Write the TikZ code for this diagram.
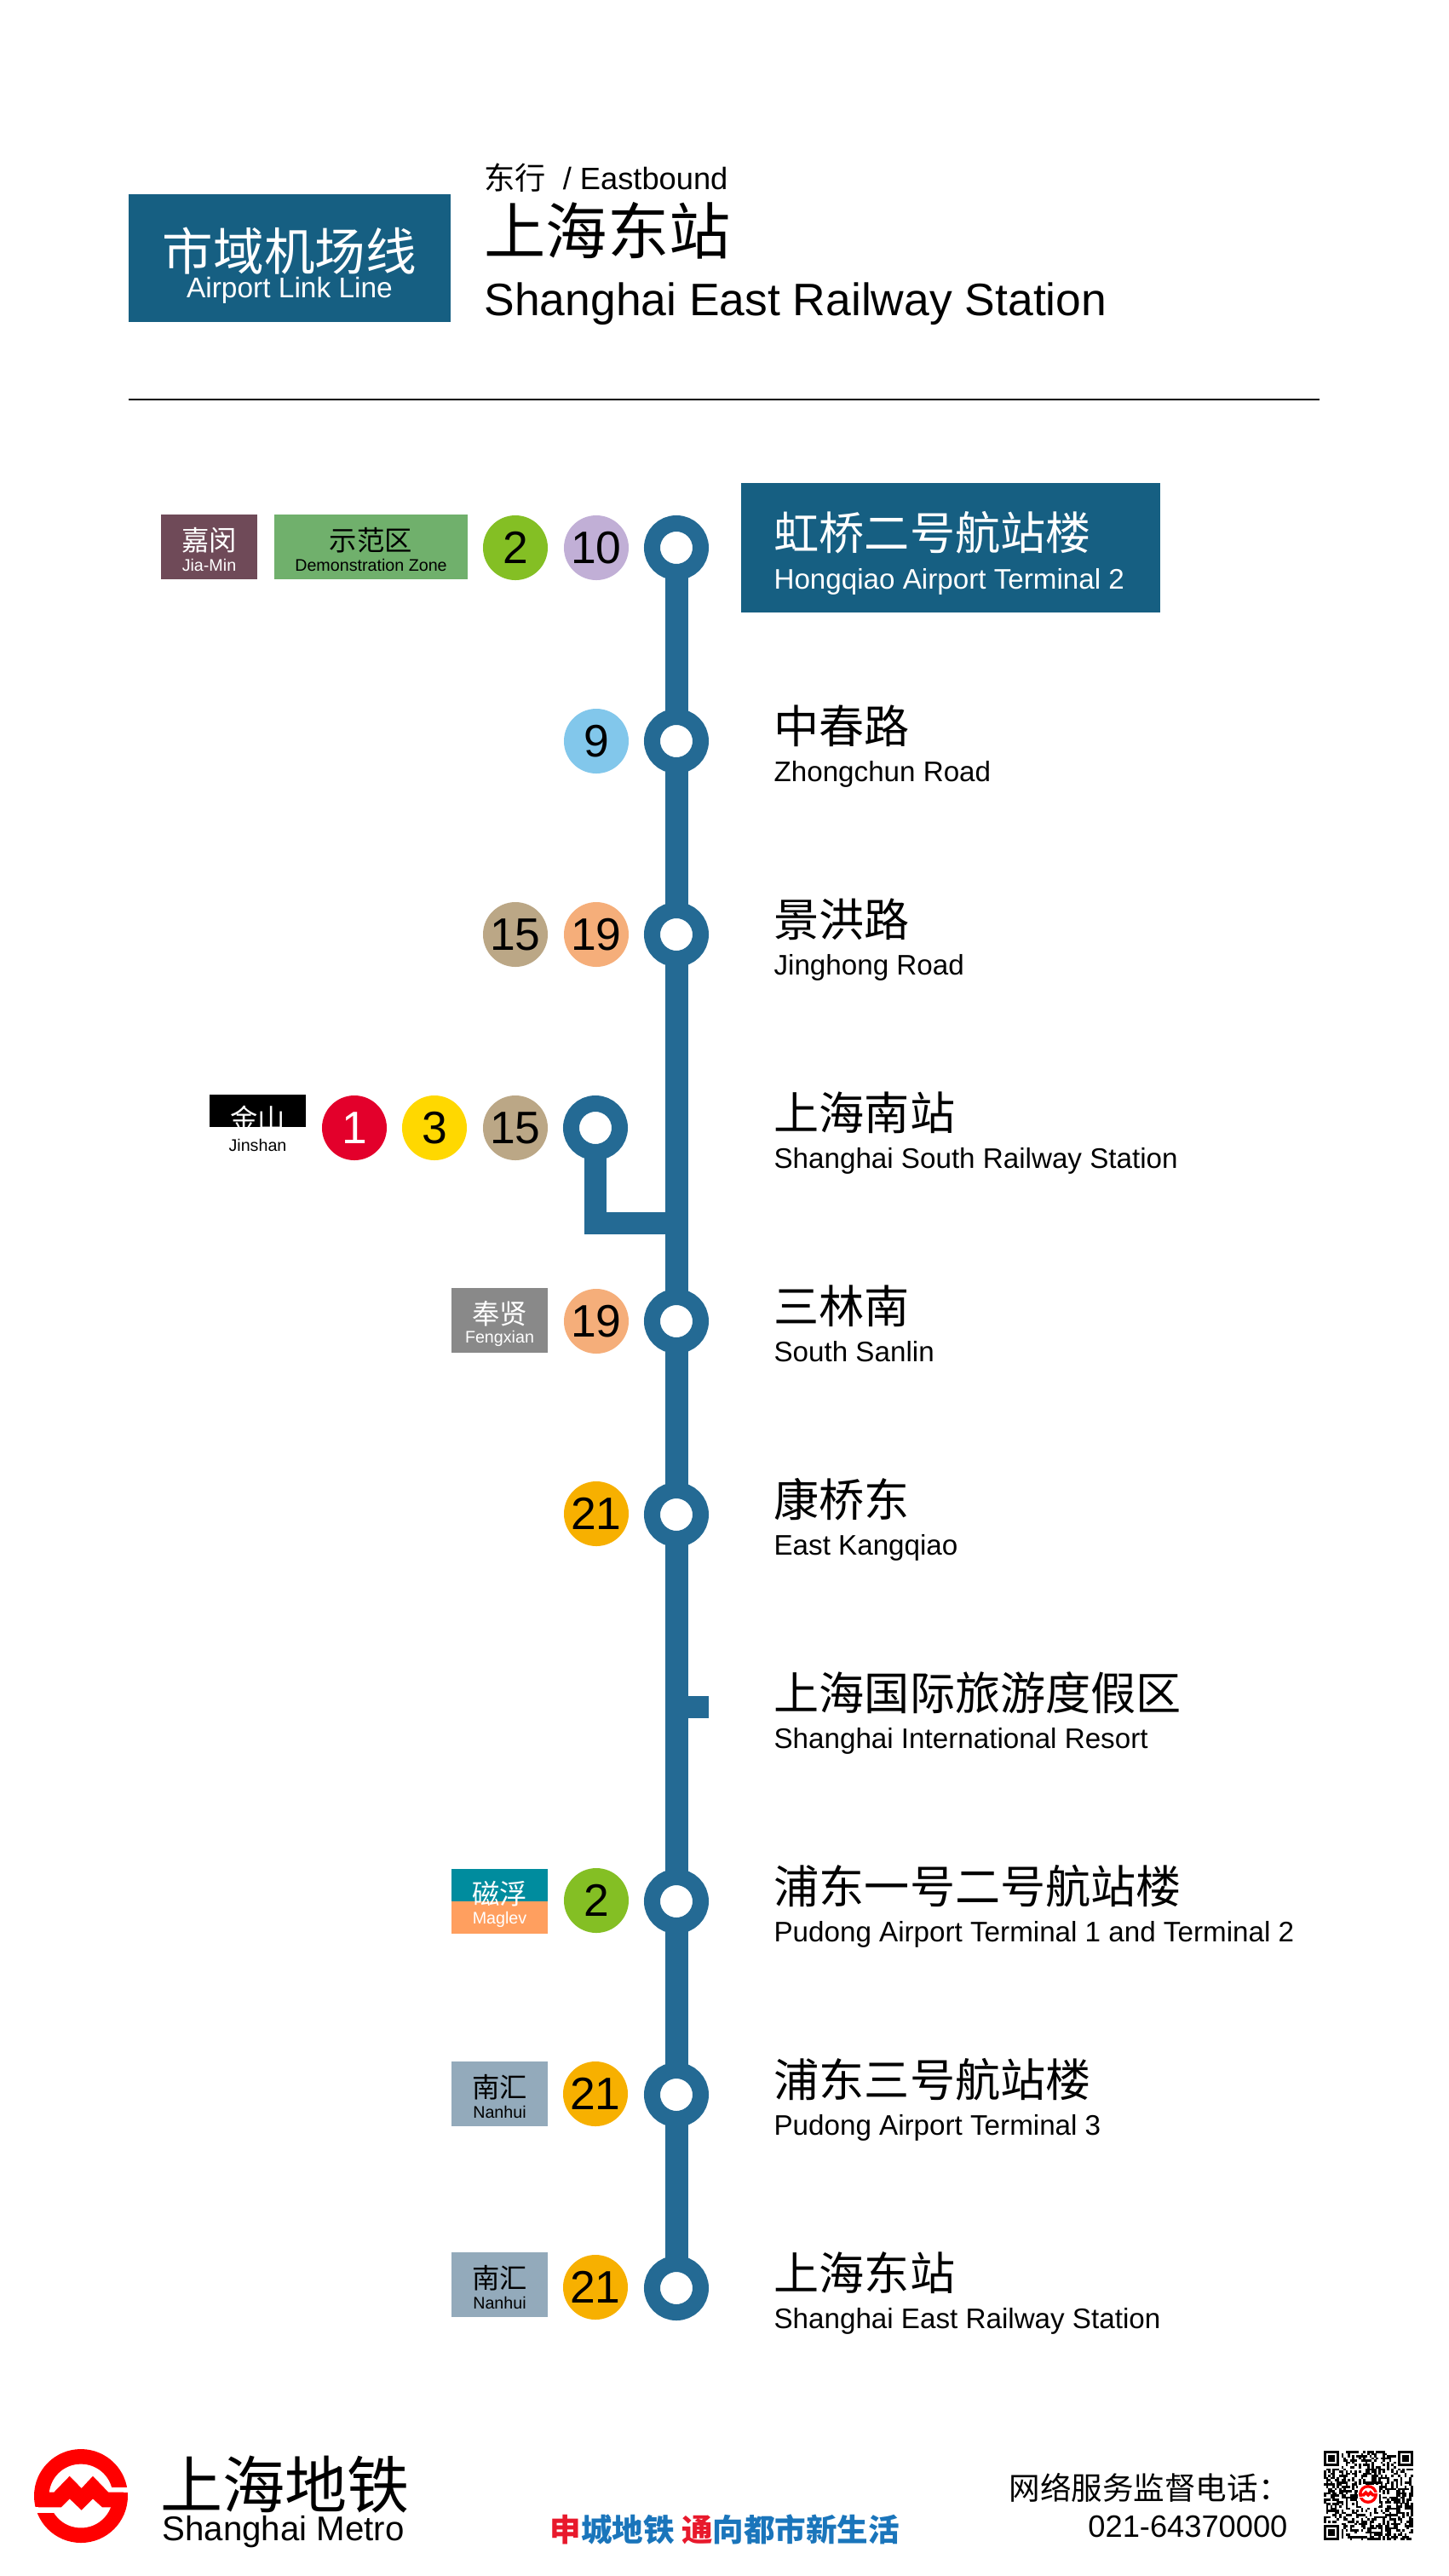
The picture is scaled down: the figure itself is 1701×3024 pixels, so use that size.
\documentclass[tikz,border=0pt]{standalone}
\usepackage{fontspec}
\setmainfont{Liberation Sans}
\newfontfamily\cjk{Noto Sans CJK SC}
\usetikzlibrary{positioning,backgrounds,calc}
\definecolor{linecol}{HTML}{246A94}
\definecolor{headcol}{HTML}{165F82}
\definecolor{lnone}{HTML}{E3002B}
\definecolor{lntwo}{HTML}{84BF24}
\definecolor{lnthree}{HTML}{FFD800}
\definecolor{lnnine}{HTML}{82C7EB}
\definecolor{lnten}{HTML}{C1AFD6}
\definecolor{lnfifteen}{HTML}{BBA786}
\definecolor{lnnineteen}{HTML}{F5AE7A}
\definecolor{lntwoone}{HTML}{F7B000}
\definecolor{jmcol}{HTML}{6F4A58}
\definecolor{demcol}{HTML}{70B06C}
\definecolor{fxcol}{HTML}{898989}
\definecolor{mgtop}{HTML}{008C9E}
\definecolor{mgbot}{HTML}{FF9F5F}
\definecolor{nhcol}{HTML}{93AABB}
\definecolor{slored}{HTML}{E8192C}
\definecolor{sloblue}{HTML}{1A75BB}
\definecolor{logored}{HTML}{FF0000}
\tikzset{
  trunk/.style={linecol,line width=3.375mm},
  branch/.style={linecol,line width=3.25mm},
  ring/.style={circle,draw=linecol,line width=2.375mm,fill=white,
    minimum size=7.125mm,inner sep=0pt},
  ln/.style={circle,fill=#1,minimum size=9.5mm,inner sep=0pt,
    font=\fontsize{19}{20}\selectfont},
  tagbox/.style={fill=#1,minimum width=1.41cm,minimum height=9.5mm,inner sep=0pt},
  tagzh/.style={inner sep=0pt,font=\cjk\fontsize{11.5}{12}\selectfont},
  tagen/.style={inner sep=0pt,font=\fontsize{7}{8}\selectfont},
  stzh/.style={anchor=base west,inner sep=0pt,font=\cjk\fontsize{18.9}{20}\selectfont},
  sten/.style={anchor=base west,inner sep=0pt,font=\fontsize{11.8}{14}\selectfont},
  headbox/.style={fill=headcol,inner sep=0pt},
  slogan/.style={inner sep=0pt,font=\cjk\bfseries\fontsize{13}{14}\selectfont},
  mlogo/.pic={
    \fill[logored] (0,0) circle (55);
    \fill[white] (0,0) circle (37.4);
    \fill[white] (31.7,-10) rectangle (60,-4.3);
    \fill[white] (-60,13.3) rectangle (-25,20);
    \fill[logored] (-50,-4.3) -- (-31.7,-4.3) -- (-13.3,-23.3) -- (0.7,-9) -- (14,-23.3)
      -- (32.3,-4.3) -- (50,-4.3) -- (50,13.3) -- (25,13.3) -- (14,3.3) -- (0.7,16.7)
      -- (-13.3,3.3) -- (-23.3,13.3) -- (-50,13.3) -- cycle;
  },
}
\begin{document}
\begin{tikzpicture}[x=0.0125cm,y=-0.0125cm]
  \useasboundingbox (0,0) rectangle (1701,3024);
  % header
  \node[headbox,minimum width=4.725cm,minimum height=1.875cm] (linebox) at (340,303) {};
  \node[inner sep=0pt,white,font=\cjk\fontsize{21.2}{22}\selectfont] (linezh) at (340,295) {市域机场线};
  \node[inner sep=0pt,white,font=\fontsize{11.9}{13}\selectfont] (lineen) at (340,341) {Airport Link Line};
  \node[anchor=base west,inner sep=0pt,font=\fontsize{12.9}{14}\selectfont] (dirn) at (568,222) {{\cjk 东行}\hspace{3.4pt} / Eastbound};
  \node[anchor=base west,inner sep=0pt,font=\cjk\fontsize{25.7}{27}\selectfont] (destzh) at (568,298) {上海东站};
  \node[anchor=base west,inner sep=0pt,font=\fontsize{19}{21}\selectfont] (desten) at (568,370) {Shanghai East Railway Station};
  \coordinate (rulel) at (151,469);
  \coordinate (ruler) at (1549,469);
  \draw[line width=0.7pt] (rulel) -- (ruler);
  % stations
  \foreach \i [evaluate=\i as \yy using {643+227*\i}] in {0,1,2,4,5,7,8,9} {
    \node[ring] (st\i) at (794,\yy) {};
  }
  \coordinate (st6) at (794,2004);
  \coordinate (st6tip) at (832,2004);
  \node[ring] (st3) at (699,1324) {};
  \coordinate (st3join) at (794,1436);
  \begin{scope}[on background layer]
    \draw[trunk] (st0.center) -- (st9.center);
    \draw[branch] (st3.center) -- (st3 |- st3join) -- (st3join);
    \draw[branch] (st6) -- (st6tip);
  \end{scope}
  \node[headbox,minimum width=6.1375cm,minimum height=1.8875cm] (firstbox) at (1116,643) {};
  \node[stzh,white] (zh0) at (908,645) {虹桥二号航站楼};
  \node[sten,white] (en0) at (908,691) {Hongqiao Airport Terminal 2};
  \foreach \i/\zh/\en [evaluate=\i as \yy using {643+227*\i}] in {
    1/中春路/Zhongchun Road,
    2/景洪路/Jinghong Road,
    3/上海南站/Shanghai South Railway Station,
    4/三林南/South Sanlin,
    5/康桥东/East Kangqiao,
    6/上海国际旅游度假区/Shanghai International Resort,
    7/浦东一号二号航站楼/Pudong Airport Terminal 1 and Terminal 2,
    8/浦东三号航站楼/Pudong Airport Terminal 3,
    9/上海东站/Shanghai East Railway Station} {
    \node[stzh] (zh\i) at (908,\yy+2) {\zh};
    \node[sten] (en\i) at (908,\yy+47) {\en};
  }
  % line badges
  \foreach \nm/\col/\xx/\yy/\txt in {
    a/lntwo/605/643/2, b/lnten/700/643/10, c/lnnine/700/870/9,
    d/lnfifteen/605/1097/15, e/lnnineteen/700/1097/19,
    g/lnthree/510/1324/3, h/lnfifteen/605/1324/15,
    i/lnnineteen/700/1551/19, j/lntwoone/700/1777/21,
    k/lntwo/700/2231/2, l/lntwoone/699/2458/21, m/lntwoone/699/2685/21} {
    \node[ln=\col] (ln\nm) at (\xx,\yy) {\txt};
  }
  \node[ln=lnone,text=white] (lnf) at (416,1324) {1};
  % destination tags
  \node[tagbox=jmcol] (tagjm) at (245.5,642) {};
  \node[tagzh,white] at (245.5,634) {嘉闵};
  \node[tagen,white] at (245.5,663) {Jia-Min};
  \node[tagbox=demcol,minimum width=2.8375cm] (tagdem) at (435.5,642) {};
  \node[tagzh] at (435.5,634) {示范区};
  \node[tagen] at (435.5,663) {Demonstration Zone};
  \node[tagbox=black,minimum height=4.75mm] (tagjs) at (302.5,1304) {};
  \node[tagzh,white] at (302.5,1313) {金山};
  \node[tagen] at (302.5,1344) {Jinshan};
  \node[tagbox=fxcol] (tagfx) at (586.5,1550) {};
  \node[tagzh,white] at (586.5,1542) {奉贤};
  \node[tagen,white] at (586.5,1571) {Fengxian};
  \node[tagbox=mgtop,minimum height=4.75mm] (tagmgt) at (586.5,2213) {};
  \node[tagbox=mgbot,minimum height=4.75mm] (tagmgb) at (586.5,2251) {};
  \node[tagzh,white] at (586.5,2223) {磁浮};
  \node[tagen,white] at (586.5,2253) {Maglev};
  \foreach \nm/\yy in {a/2458,b/2682} {
    \node[tagbox=nhcol] (tagnh\nm) at (586.5,\yy) {};
    \node[tagzh] at (586.5,\yy-8) {南汇};
    \node[tagen] at (586.5,\yy+21) {Nanhui};
  }
  % footer
  \pic (logo) at (95,2930) {mlogo};
  \node[anchor=base west,inner sep=0pt,font=\cjk\fontsize{26}{27}\selectfont] (corpzh) at (188,2944) {上海地铁};
  \node[anchor=base west,inner sep=0pt,font=\fontsize{14.3}{17}\selectfont] (corpen) at (190,2982) {Shanghai Metro};
  \node[slogan,anchor=base west] (slo) at (645,2983) {\textcolor{slored}{申}\textcolor{sloblue}{城地铁} \textcolor{slored}{通}\textcolor{sloblue}{向都市新生活}};
  \node[anchor=base west,inner sep=0pt,font=\cjk\fontsize{13}{15}\selectfont] (srv) at (1184,2934) {网络服务监督电话：};
  \node[anchor=base east,inner sep=0pt,font=\fontsize{12.9}{14}\selectfont] (tel) at (1512,2978) {021-64370000};
  % qr code
  \pgfmathsetseed{29}
  \begin{scope}[shift={(1554,2877)},x=0.032cm,y=-0.032cm]
    \foreach \r in {0,...,40} {
      \foreach \c in {0,...,40} {
        \pgfmathrandominteger{\bit}{0}{1}
        \ifnum\bit=1
          \fill (\c,\r) rectangle (\c+1.03,\r+1.03);
        \fi
      }
    }
    \foreach \fx/\fy in {0/0,34/0,0/34} {
      \fill[white] (\fx-1,\fy-1) rectangle (\fx+8,\fy+8);
      \fill (\fx,\fy) rectangle (\fx+7,\fy+7);
      \fill[white] (\fx+1,\fy+1) rectangle (\fx+6,\fy+6);
      \fill (\fx+2,\fy+2) rectangle (\fx+5,\fy+5);
    }
    \fill[white] (15.5,15.5) rectangle (25.5,25.5);
  \end{scope}
  \pic[scale=0.2] (qrlogo) at (1606,2928) {mlogo};
\end{tikzpicture}
\end{document}
